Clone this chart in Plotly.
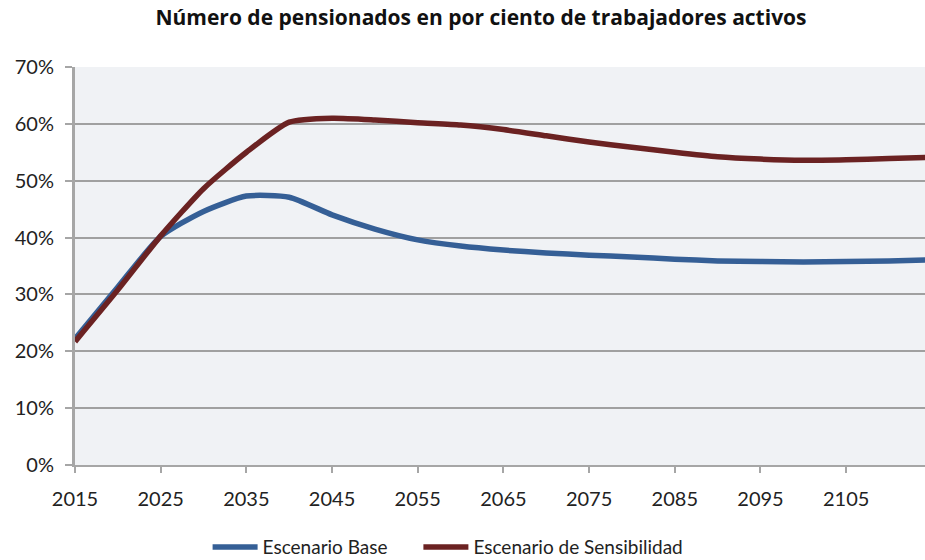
import plotly.graph_objects as go

years = [2015, 2020, 2025, 2030, 2035, 2040, 2045, 2050, 2055, 2060, 2065,
         2070, 2075, 2080, 2085, 2090, 2095, 2100, 2105, 2110, 2115]
base = [22.2, 31.3, 40.2, 44.6, 47.3, 47.1, 44.0, 41.5, 39.6, 38.5, 37.8,
        37.3, 36.9, 36.6, 36.2, 35.9, 35.8, 35.7, 35.8, 35.9, 36.1]
sens = [21.7, 30.8, 40.3, 48.6, 55.0, 60.3, 61.0, 60.7, 60.2, 59.8, 59.0,
        57.9, 56.8, 55.9, 55.0, 54.2, 53.8, 53.6, 53.7, 53.9, 54.1]
x_ticks = [2015, 2025, 2035, 2045, 2055, 2065, 2075, 2085, 2095, 2105]
y_ticks = [0, 10, 20, 30, 40, 50, 60, 70]
y_labels = [f"{v}%" for v in y_ticks]

title = "Número de pensionados en por ciento de trabajadores activos"
names = ["Escenario Base", "Escenario de Sensibilidad"]
colors = ["#355F96", "#6B2222"]
font = "Lato, 'Open Sans', sans-serif"

fig = go.Figure()
for vals, name, col, lg in [(base, names[0], colors[0], "legend"),
                            (sens, names[1], colors[1], "legend2")]:
    fig.add_trace(go.Scatter(x=years, y=vals, name=name, mode="lines", legend=lg,
                             line=dict(color=col, width=5.5, shape="spline", smoothing=0.6)))

leg_common = dict(orientation="h", xanchor="left", yref="container", y=0.023,
                  yanchor="middle", font=dict(size=19), itemwidth=45,
                  bgcolor="rgba(0,0,0,0)")
fig.update_layout(
    width=925, height=560,
    margin=dict(l=75, r=0, t=67, b=95),
    paper_bgcolor="white",
    plot_bgcolor="#F0F2F5",
    font=dict(family=font, size=20, color="#222222"),
    title=dict(text="<b>" + title + "</b>", x=0.52, xanchor="center", y=0.968, yanchor="middle",
               font=dict(family="'Open Sans', sans-serif", size=21, color="#111111")),
    showlegend=True,
    legend=dict(x=0.156, **leg_common),
    legend2=dict(x=0.404, **leg_common),
)
fig.update_xaxes(range=[2015, 2114.2], tickvals=x_ticks, showgrid=False,
                 showline=True, linecolor="#A6A6A6", linewidth=2,
                 ticks="outside", ticklen=6, tickcolor="#A6A6A6", tickwidth=2,
                 ticklabelstandoff=9, zeroline=False)
fig.update_yaxes(range=[0, 70], tickvals=y_ticks, ticktext=y_labels,
                 showgrid=True, gridcolor="#A0A0A0", gridwidth=1.5,
                 showline=True, linecolor="#A6A6A6", linewidth=3,
                 ticks="outside", ticklen=7, tickcolor="#A6A6A6", tickwidth=1.5,
                 ticklabelstandoff=7, zeroline=False)

fig.write_html("out.html", config={"displayModeBar": False},
               post_script="document.body.style.margin='0';")
